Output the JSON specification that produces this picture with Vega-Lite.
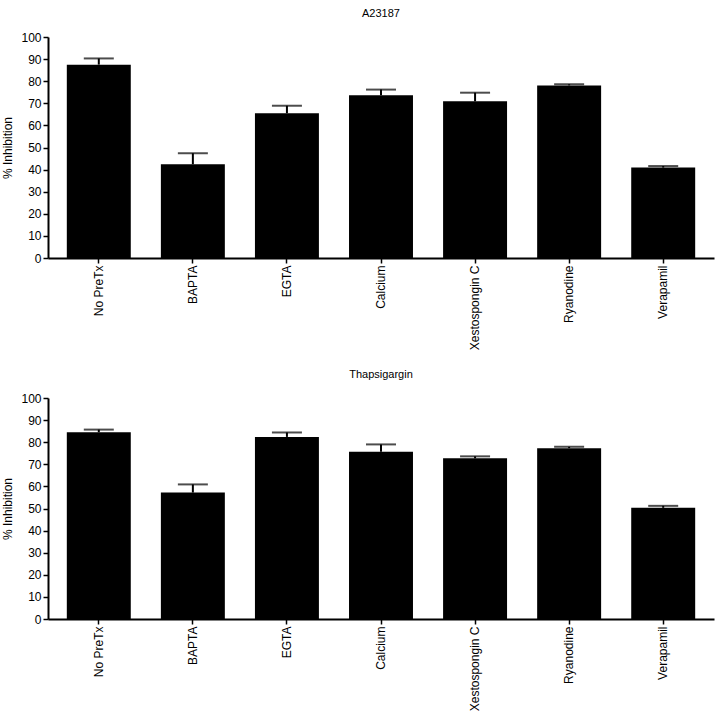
{
  "$schema": "https://vega.github.io/schema/vega-lite/v6.json",
  "padding": {"top": 8, "left": 1, "right": 5, "bottom": 5},
  "background": "white",
  "datasets": {
    "a23187": [
      {"treatment": "No PreTx", "value": 87.5, "upper": 90.3},
      {"treatment": "BAPTA", "value": 42.4, "upper": 47.4},
      {"treatment": "EGTA", "value": 65.5, "upper": 68.9},
      {"treatment": "Calcium", "value": 73.6, "upper": 76.2},
      {"treatment": "Xestospongin C", "value": 70.9, "upper": 74.8},
      {"treatment": "Ryanodine", "value": 78.1, "upper": 78.6},
      {"treatment": "Verapamil", "value": 40.9, "upper": 41.6}
    ],
    "thapsigargin": [
      {"treatment": "No PreTx", "value": 84.5, "upper": 85.7},
      {"treatment": "BAPTA", "value": 57.2, "upper": 60.9},
      {"treatment": "EGTA", "value": 82.4, "upper": 84.4},
      {"treatment": "Calcium", "value": 75.7, "upper": 79.0},
      {"treatment": "Xestospongin C", "value": 72.7, "upper": 73.6},
      {"treatment": "Ryanodine", "value": 77.3, "upper": 77.9},
      {"treatment": "Verapamil", "value": 50.3, "upper": 51.2}
    ]
  },
  "spacing": 19,
  "vconcat": [
    {
      "title": {"text": "A23187"},
      "width": 666,
      "height": 221,
      "data": {"name": "a23187"},
      "encoding": {
        "x": {"field": "treatment", "type": "nominal", "sort": null,
              "scale": {"paddingInner": 0.32, "paddingOuter": 0.2},
              "axis": {"title": null, "labelAngle": -90}},
        "y": {"field": "value", "type": "quantitative",
              "scale": {"domain": [0, 100], "nice": false},
              "axis": {"title": "% Inhibition", "labelOverlap": false, "values": [0,10,20,30,40,50,60,70,80,90,100]}}
      },
      "layer": [
        {"mark": {"type": "bar", "color": "black"}},
        {"mark": {"type": "rule", "color": "black", "strokeWidth": 2},
         "encoding": {"y2": {"field": "upper"}}},
        {"mark": {"type": "tick", "color": "black", "thickness": 2, "size": 30},
         "encoding": {"y": {"field": "upper", "type": "quantitative",
              "scale": {"domain": [0, 100], "nice": false},
              "axis": {"title": "% Inhibition", "labelOverlap": false, "values": [0,10,20,30,40,50,60,70,80,90,100]}}}}
      ]
    },
    {
      "title": {"text": "Thapsigargin"},
      "width": 666,
      "height": 221,
      "data": {"name": "thapsigargin"},
      "encoding": {
        "x": {"field": "treatment", "type": "nominal", "sort": null,
              "scale": {"paddingInner": 0.32, "paddingOuter": 0.2},
              "axis": {"title": null, "labelAngle": -90}},
        "y": {"field": "value", "type": "quantitative",
              "scale": {"domain": [0, 100], "nice": false},
              "axis": {"title": "% Inhibition", "labelOverlap": false, "values": [0,10,20,30,40,50,60,70,80,90,100]}}
      },
      "layer": [
        {"mark": {"type": "bar", "color": "black"}},
        {"mark": {"type": "rule", "color": "black", "strokeWidth": 2},
         "encoding": {"y2": {"field": "upper"}}},
        {"mark": {"type": "tick", "color": "black", "thickness": 2, "size": 30},
         "encoding": {"y": {"field": "upper", "type": "quantitative",
              "scale": {"domain": [0, 100], "nice": false},
              "axis": {"title": "% Inhibition", "labelOverlap": false, "values": [0,10,20,30,40,50,60,70,80,90,100]}}}}
      ]
    }
  ],
  "config": {
    "view": {"stroke": null},
    "font": "Liberation Sans",
    "title": {"fontSize": 11, "fontWeight": "normal", "color": "black", "anchor": "middle", "offset": 12, "font": "Liberation Sans"},
    "axis": {
      "grid": false,
      "labelOverlap": false,
      "domainColor": "black",
      "domainWidth": 2,
      "tickColor": "black",
      "tickWidth": 1.5,
      "tickSize": 5,
      "labelColor": "black",
      "labelFont": "Liberation Sans",
      "labelFontSize": 12,
      "labelPadding": 2,
      "titleColor": "black",
      "titleFont": "Liberation Sans",
      "titleFontSize": 12,
      "titleFontWeight": "normal",
      "titlePadding": 6
    }
  }
}
